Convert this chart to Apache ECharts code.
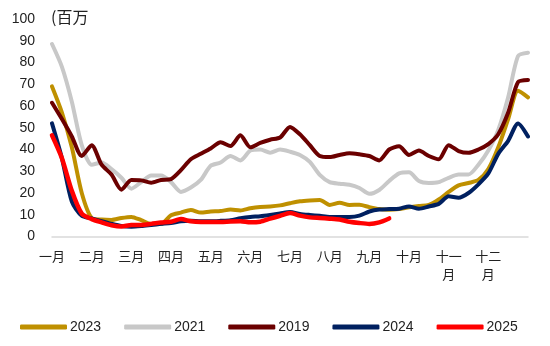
<!DOCTYPE html>
<html>
<head>
<meta charset="utf-8">
<script src="https://cdn.jsdelivr.net/npm/echarts@6/dist/echarts.min.js"></script>
<style>
html,body{margin:0;padding:0;background:#fff;}
#chart{width:550px;height:346px;}
</style>
</head>
<body>
<div id="chart"></div>
<script>
// Month labels (shown every 4th weekly point)
var monthLabels = ['一月','二月','三月','四月','五月','六月','七月','八月','九月','十月','十一\n月','十二\n月'];
var pointsPerMonth = 4;
var pointCount = 49;

var y2023 = [69,57,41,20,8.5,7.8,7.6,8.5,9,7.5,5.8,5.8,9.8,11,12.2,11,11.5,11.7,12.4,12,13,13.6,13.8,14.3,15.3,16.2,16.6,16.8,14.5,15.5,14.5,14.6,13.5,12.6,12.3,12.6,13.4,14,14.5,17,20.5,23.5,24.6,26,31,41,54,67,64];
var y2021 = [88.5,78,62,42,33,34,31,27,22,25,28,28,25,20.5,22.5,26,32.5,34,37,35,39.5,40,38.5,40,39,37.5,34.3,28.3,25,24.3,23.8,22.3,19.6,21.4,25.5,29,29.5,25.5,24.6,25,27,28.5,28.5,33,39.5,49,64,83,84.5];
var y2019 = [61.5,54,46,37,42,33,28.5,21.5,26,25.8,24.7,26,26.4,30.5,35.5,38,40.5,43.3,41.6,46.5,41,43,44.5,45.5,50.4,47,42,37,36.5,37.5,38.3,37.8,37,35,40,41.5,37.5,39.5,37,35.5,42,39.3,38.5,40,42.5,47,57,71,72];
var y2024 = [52,36,16,9.5,8.3,7,5.8,4.8,4.5,4.8,5.3,5.8,6.2,7,7.2,7,7,7.2,7.5,8.4,9,9.3,9.9,10.6,11.3,10.4,9.9,9.5,9,9,9,9.6,11.5,12.4,12.6,12.8,13.8,12.8,13.8,15,18.5,17.8,20,24,29,38,44,52,46];
var y2025 = [46.5,36,21,10.5,8,6.5,5.2,4.6,5.3,5.3,5.8,6.4,6.8,8,7,6.7,6.7,6.7,6.9,7,6.5,6.8,8.2,9.5,10.8,9.6,8.8,8.5,8.2,7.8,6.8,6.2,5.8,6.5,8.3];

var seriesNames = ['2023','2021','2019','2024','2025'];
var seriesColors = ['#BF9000','#C8C8C8','#6B0000','#002060','#FF0000'];
var seriesData = [y2023,y2021,y2019,y2024,y2025];

var categories = [];
for (var i = 0; i < pointCount; i++) {
  categories.push(i % pointsPerMonth === 0 && monthLabels[i / pointsPerMonth] ? monthLabels[i / pointsPerMonth] : '');
}

var chart = echarts.init(document.getElementById('chart'), null, {renderer:'canvas'});
var font = '"Liberation Sans", Arial, sans-serif';
var cjk = '"Noto Sans CJK SC", "Liberation Sans", sans-serif';

chart.setOption({
  animation: false,
  backgroundColor: '#fff',
  grid: {left: 52, right: 22, top: 19, bottom: 109.5, containLabel: false},
  graphic: [{
    type: 'text', left: 51, top: 9,
    style: {text: '(百万', font: '16px ' + cjk, fill: '#222'}
  }],
  legend: {
    data: seriesNames,
    left: 15, top: 315,
    icon: 'roundRect',
    itemWidth: 47, itemHeight: 5, itemGap: 23,
    textStyle: {fontFamily: font, fontSize: 14, color: '#222', padding: [0,0,0,-2]}
  },
  xAxis: {
    type: 'category',
    data: categories,
    boundaryGap: false,
    axisLine: {lineStyle: {color: '#D9D9D9', width: 1.5}},
    axisTick: {show: false},
    axisLabel: {interval: 0, fontFamily: cjk, fontSize: 13, color: '#222', margin: 11, lineHeight: 18}
  },
  yAxis: {
    type: 'value', min: 0, max: 100, interval: 10,
    splitLine: {show: false},
    axisLine: {show: false}, axisTick: {show: false},
    axisLabel: {fontFamily: font, fontSize: 14, color: '#222', margin: 17}
  },
  series: seriesNames.map(function (n, k) {
    return {
      name: n, type: 'line', data: seriesData[k],
      showSymbol: false, smooth: 0.25,
      lineStyle: {color: seriesColors[k], width: k === 4 ? 4.5 : 4, cap: 'round', join: 'round'},
      itemStyle: {color: seriesColors[k]}
    };
  })
});
</script>
</body>
</html>
